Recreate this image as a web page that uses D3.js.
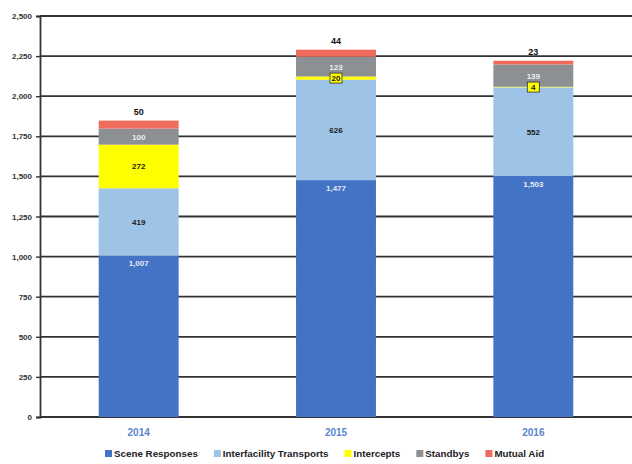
<!DOCTYPE html>
<html><head><meta charset="utf-8">
<script src="https://cdn.jsdelivr.net/npm/d3@7"></script>
<style>html,body{margin:0;padding:0;background:#fff;}svg{display:block;}</style>
</head><body>
<svg id="chart" width="632" height="464"></svg>
<script>
const years = ["2014", "2015", "2016"];
const seriesNames = ["Scene Responses", "Interfacility Transports", "Intercepts", "Standbys", "Mutual Aid"];
const sceneResponses = [1007, 1477, 1503];
const interfacilityTransports = [419, 626, 552];
const intercepts = [272, 20, 4];
const standbys = [100, 123, 139];
const mutualAid = [50, 44, 23];
const yTicks = [0, 250, 500, 750, 1000, 1250, 1500, 1750, 2000, 2250, 2500];

const colors = ["#4472C4", "#9DC3E6", "#FFFF00", "#8C9092", "#EF6B5E"];
const labelColors = ["#e4ecf8", "#1a1a1a", "#1a1a1a", "#eeeeee", "#111"];
const seriesValues = [sceneResponses, interfacilityTransports, intercepts, standbys, mutualAid];

const rows = years.map((y, i) => {
  const r = {year: y};
  seriesNames.forEach((s, k) => r[s] = seriesValues[k][i]);
  return r;
});
const stacked = d3.stack().keys(seriesNames)(rows);

const svg = d3.select("#chart");
const x = d3.scaleBand().domain(years).range([40, 632]).paddingInner(0.595).paddingOuter(0.2975);
const y = d3.scaleLinear().domain([0, 2500]).range([417, 16]);
const fmt = d3.format(",");
const font = "'Liberation Sans', Arial, sans-serif";

// gridlines
svg.append("g").selectAll("line").data(yTicks).join("line")
  .attr("x1", 40).attr("x2", 632)
  .attr("y1", d => y(d)).attr("y2", d => y(d))
  .attr("stroke", "#333").attr("stroke-width", 1.8);

// y axis
const yAxis = d3.axisLeft(y).tickValues(yTicks).tickFormat(fmt).tickSize(4).tickPadding(4);
const ga = svg.append("g").attr("transform", "translate(40,0)").call(yAxis);
ga.select(".domain").attr("stroke", "#333").attr("stroke-width", 1.8);
ga.selectAll(".tick line").attr("stroke", "#333").attr("stroke-width", 1.4);
ga.selectAll(".tick text").attr("font-family", font).attr("font-weight", "bold")
  .attr("font-size", 8).attr("fill", "#333");

// bars
const layers = svg.append("g").selectAll("g").data(stacked).join("g")
  .attr("fill", (d, i) => colors[i]);
layers.selectAll("rect").data(d => d).join("rect")
  .attr("x", d => x(d.data.year))
  .attr("width", x.bandwidth())
  .attr("y", d => y(d[1]))
  .attr("height", d => y(d[0]) - y(d[1]));

// value labels
stacked.forEach((layer, k) => {
  const g = svg.append("g");
  layer.forEach(d => {
    const v = d[1] - d[0];
    const cx = x(d.data.year) + x.bandwidth() / 2;
    let cy;
    if (k === 0) cy = y(d[1]) + 11;
    else if (k === 4) cy = y(d[1]) - 6;
    else cy = (y(d[0]) + y(d[1])) / 2 + 3;
    if (k === 2 && v < 60) {
      g.append("rect").attr("x", cx - 6).attr("y", cy - 8).attr("width", 12).attr("height", 10)
        .attr("fill", "#FFFF00").attr("stroke", "#333").attr("stroke-width", 0.8);
    }
    g.append("text").attr("x", cx).attr("y", cy)
      .attr("text-anchor", "middle").attr("font-family", font).attr("font-weight", "bold")
      .attr("font-size", k === 4 ? 9 : 8).attr("fill", labelColors[k])
      .text(fmt(v));
  });
});

// year labels
svg.append("g").selectAll("text").data(years).join("text")
  .attr("x", d => x(d) + x.bandwidth() / 2).attr("y", 436)
  .attr("text-anchor", "middle").attr("font-family", font).attr("font-weight", "bold")
  .attr("font-size", 10).attr("fill", "#5A86CF").text(d => d);

// legend
const leg = svg.append("g");
let lx = 105;
seriesNames.forEach((s, i) => {
  leg.append("rect").attr("x", lx).attr("y", 450).attr("width", 7).attr("height", 7).attr("fill", colors[i]);
  const t = leg.append("text").attr("x", lx + 9).attr("y", 457)
    .attr("font-family", font).attr("font-weight", "bold").attr("font-size", 9.8)
    .attr("fill", "#222").text(s);
  lx += 9 + t.node().getComputedTextLength() + 16;
});
</script>
</body></html>
